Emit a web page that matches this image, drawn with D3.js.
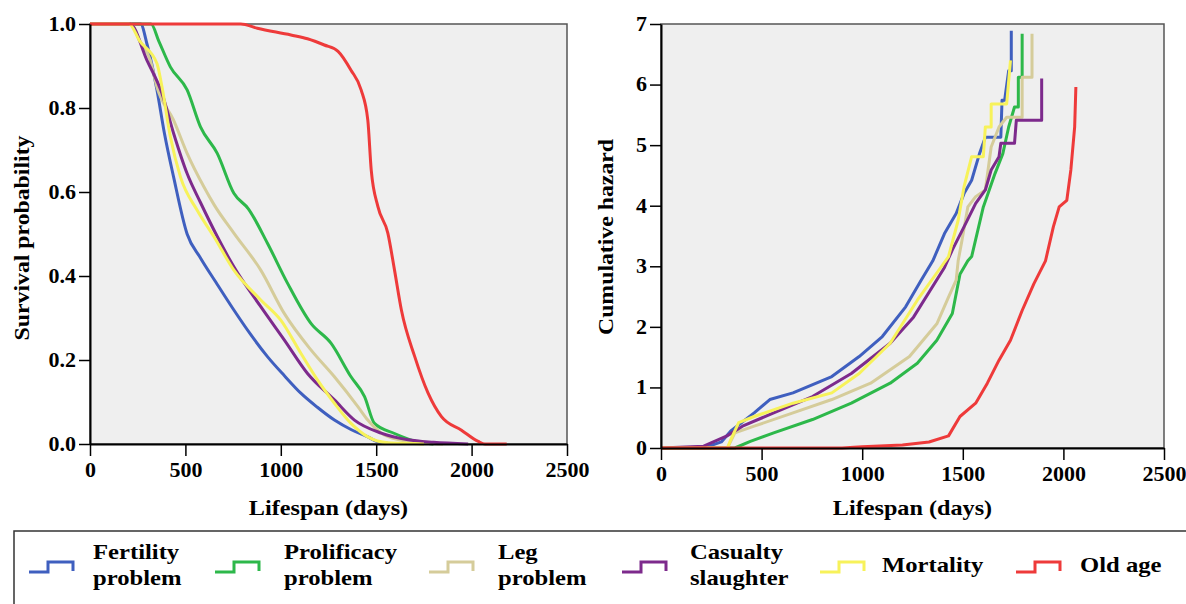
<!DOCTYPE html>
<html>
<head>
<meta charset="utf-8">
<script src="https://cdn.jsdelivr.net/npm/d3@7"></script>
<style>
  body { margin: 0; background: #fff; }
  text { font-family: "Liberation Serif", "Times New Roman", serif; font-weight: bold; fill: #000; }
</style>
</head>
<body>
<script>
// series names / colours
var seriesNames = [["Fertility", "problem"], ["Prolificacy", "problem"], ["Leg", "problem"],
    ["Casualty", "slaughter"], ["Mortality"], ["Old age"]];
var seriesColors = ["#3f5fbf", "#2db84a", "#d5cc9a", "#7d2a8c", "#f7f25a", "#ee3a3a"];

var xTicks = [0, 500, 1000, 1500, 2000, 2500];
var survTicks = [0, 0.2, 0.4, 0.6, 0.8, 1.0];
var hazTicks = [0, 1, 2, 3, 4, 5, 6, 7];

// survival probability [day, S]
var survFertility = [[0, 1], [265, 1], [300, 0.95], [351, 0.843], [390, 0.74], [438, 0.636], [509, 0.5],
    [579, 0.443], [660, 0.385], [754, 0.319], [840, 0.262], [930, 0.208], [1020, 0.162], [1105, 0.121],
    [1190, 0.088], [1281, 0.057], [1370, 0.034], [1456, 0.017], [1509, 0.005], [1560, 0.002]];
var survProlificacy = [[0, 1], [320, 1], [360, 0.96], [421, 0.898], [509, 0.843], [579, 0.755],
    [667, 0.692], [754, 0.597], [830, 0.56], [930, 0.478], [1035, 0.383], [1158, 0.287], [1263, 0.24],
    [1368, 0.16], [1439, 0.113], [1491, 0.049], [1596, 0.025], [1719, 0.005], [1800, 0]];
var survLeg = [[0, 1], [215, 1], [260, 0.96], [316, 0.914], [351, 0.85], [438, 0.771], [509, 0.692],
    [596, 0.613], [650, 0.57], [754, 0.502], [895, 0.414], [1018, 0.311], [1158, 0.224], [1281, 0.16],
    [1404, 0.089], [1456, 0.057], [1526, 0.026], [1620, 0.01], [1750, 0.003], [1850, 0]];
var survCasualty = [[0, 1], [210, 1], [298, 0.914], [377, 0.835], [438, 0.74], [509, 0.644], [579, 0.575],
    [667, 0.494], [754, 0.422], [895, 0.327], [1018, 0.248], [1140, 0.168], [1281, 0.105], [1386, 0.057],
    [1526, 0.026], [1667, 0.01], [1800, 0.004], [1982, 0]];
var survMortality = [[0, 1], [205, 1], [260, 0.96], [351, 0.906], [377, 0.851], [421, 0.732], [474, 0.636],
    [561, 0.557], [649, 0.494], [754, 0.414], [895, 0.343], [1000, 0.295], [1105, 0.216], [1193, 0.152],
    [1281, 0.097], [1368, 0.049], [1456, 0.017], [1561, 0.003], [1700, 0.001], [1750, 0]];
var survOldAge = [[0, 1], [790, 1], [877, 0.99], [1053, 0.974], [1140, 0.965], [1228, 0.95], [1300, 0.935],
    [1368, 0.89], [1421, 0.843], [1456, 0.771], [1474, 0.652], [1509, 0.565], [1561, 0.502], [1596, 0.414],
    [1632, 0.319], [1702, 0.208], [1772, 0.121], [1842, 0.065], [1947, 0.033], [2035, 0.006],
    [2070, 0], [2184, 0]];

// cumulative hazard [day, H]
var hazFertility = [[0, 0], [212, 0], [300, 0.1], [347, 0.28], [463, 0.58], [541, 0.8], [656, 0.91],
    [849, 1.18], [985, 1.51], [1100, 1.84], [1216, 2.33], [1293, 2.77], [1351, 3.09], [1409, 3.54],
    [1467, 3.87], [1506, 4.2], [1544, 4.42], [1583, 4.86], [1612, 5.13], [1689, 5.13], [1695, 5.74],
    [1708, 5.74], [1728, 6.23], [1741, 6.23], [1741, 6.89]];
var hazProlificacy = [[0, 0], [367, 0], [444, 0.11], [560, 0.25], [753, 0.47], [946, 0.74], [1139, 1.07],
    [1274, 1.4], [1371, 1.78], [1448, 2.22], [1486, 2.87], [1525, 3.09], [1544, 3.16], [1602, 3.98],
    [1660, 4.53], [1699, 4.86], [1728, 5.3], [1757, 5.63], [1776, 5.63], [1776, 6.12], [1795, 6.12],
    [1795, 6.84]];
var hazLeg = [[0, 0], [330, 0], [367, 0.25], [463, 0.36], [656, 0.58], [849, 0.8], [1042, 1.07],
    [1235, 1.51], [1371, 2.05], [1429, 2.49], [1467, 2.77], [1477, 3.09], [1496, 3.43], [1525, 3.98],
    [1564, 4.15], [1612, 4.26], [1641, 4.97], [1680, 5.3], [1718, 5.46], [1795, 5.46], [1795, 6.12],
    [1844, 6.12], [1844, 6.84]];
var hazCasualty = [[0, 0], [212, 0.03], [328, 0.2], [405, 0.36], [560, 0.58], [753, 0.85], [946, 1.23],
    [1139, 1.73], [1255, 2.16], [1409, 2.98], [1448, 3.27], [1506, 3.65], [1564, 4.04], [1612, 4.26],
    [1641, 4.59], [1680, 4.81], [1689, 5.03], [1757, 5.03], [1766, 5.41], [1892, 5.41], [1892, 6.1]];
var hazMortality = [[0, 0], [330, 0], [347, 0.14], [386, 0.42], [463, 0.52], [656, 0.74], [849, 0.91],
    [985, 1.23], [1139, 1.73], [1274, 2.44], [1390, 2.98], [1429, 3.16], [1477, 3.76], [1506, 4.31],
    [1544, 4.81], [1602, 4.81], [1612, 5.3], [1641, 5.3], [1641, 5.68], [1718, 5.68], [1737, 6.4]];
var hazOldAge = [[0, 0], [900, 0], [1000, 0.02], [1200, 0.05], [1332, 0.1], [1429, 0.2], [1486, 0.52],
    [1564, 0.74], [1622, 1.07], [1680, 1.45], [1737, 1.78], [1795, 2.27], [1853, 2.71], [1911, 3.09],
    [1950, 3.65], [1979, 3.98], [2017, 4.09], [2037, 4.59], [2056, 5.3], [2062, 5.96]];

var survSeries = [survFertility, survProlificacy, survLeg, survCasualty, survMortality, survOldAge];
var hazSeries = [hazFertility, hazProlificacy, hazLeg, hazCasualty, hazMortality, hazOldAge];

var svg = d3.select("body").append("svg")
    .attr("width", 1186)
    .attr("height", 604);

// the original lettering is a little wider than Times, stretch it horizontally
function stretch(sel, k) {
    sel.each(function () {
        var len = this.getComputedTextLength();
        d3.select(this).attr("textLength", len * k).attr("lengthAdjust", "spacingAndGlyphs");
    });
}

//---------one panel-----------------------//
function drawPanel(opt) {
    var x = d3.scaleLinear().domain([0, 2500]).range([opt.left, opt.right]);
    var y = d3.scaleLinear().domain(opt.yDomain).range([opt.bottom, opt.top]);
    var g = svg.append("g");

    // plot background + frame
    g.append("rect")
        .attr("x", opt.left).attr("y", opt.top)
        .attr("width", opt.right - opt.left).attr("height", opt.bottom - opt.top)
        .style("fill", "#efefef")
        .style("stroke", "#555")
        .style("stroke-width", 1.5);

    // curves
    var line = d3.line()
        .curve(opt.curve)
        .x(function (d) { return x(d[0]); })
        .y(function (d) { return y(d[1]); });
    opt.series.forEach(function (s, i) {
        g.append("path")
            .datum(s)
            .attr("d", line)
            .style("fill", "none")
            .style("stroke", seriesColors[i])
            .style("stroke-width", 3)
            .style("stroke-linejoin", "round");
    });

    // axes
    var xAxis = g.append("g")
        .attr("transform", "translate(0," + opt.bottom + ")")
        .call(d3.axisBottom(x).tickValues(xTicks).tickFormat(d3.format("d"))
            .tickSize(12).tickPadding(7).tickSizeOuter(0));
    var yAxis = g.append("g")
        .attr("transform", "translate(" + opt.left + ",0)")
        .call(d3.axisLeft(y).tickValues(opt.yTicks).tickFormat(opt.yFormat)
            .tickSize(11).tickPadding(3).tickSizeOuter(0));
    [xAxis, yAxis].forEach(function (a) {
        a.selectAll("path").style("stroke", "#000").style("stroke-width", 2);
        a.selectAll("line").style("stroke", "#000").style("stroke-width", 1.5);
        a.selectAll("text").style("font-size", "20px").style("fill", "#000")
            .style("font-family", "'Liberation Serif', serif").style("font-weight", "bold")
            .call(stretch, 1.1);
    });

    // axis titles
    g.append("text")
        .attr("x", (opt.left + opt.right) / 2)
        .attr("y", 515)
        .attr("text-anchor", "middle")
        .style("font-size", "22px")
        .text("Lifespan (days)")
        .call(stretch, 1.1);
    g.append("text")
        .attr("transform", "translate(" + opt.yTitleX + "," + opt.yTitleY + ") rotate(-90)")
        .attr("text-anchor", "middle")
        .style("font-size", "22px")
        .text(opt.yTitle)
        .call(stretch, 1.08);
}

drawPanel({
    left: 90, right: 567, top: 24, bottom: 444, curve: d3.curveMonotoneX,
    yDomain: [0, 1], yTicks: survTicks, yFormat: d3.format(".1f"),
    series: survSeries, yTitle: "Survival probability", yTitleX: 29, yTitleY: 238
});
drawPanel({
    left: 661, right: 1164, top: 24, bottom: 448, curve: d3.curveLinear,
    yDomain: [0, 7], yTicks: hazTicks, yFormat: d3.format("d"),
    series: hazSeries, yTitle: "Cumulative hazard", yTitleX: 613, yTitleY: 237
});

//---------legend-----------------------//
svg.append("rect")
    .attr("x", 14).attr("y", 531)
    .attr("width", 1190).attr("height", 100)
    .style("fill", "none")
    .style("stroke", "#333")
    .style("stroke-width", 1.5);

var legIconX = [29, 215, 429, 622, 820, 1016];
var legTextX = [93, 284, 498, 690, 882, 1080];
var legend = svg.append("g");
seriesNames.forEach(function (name, i) {
    var x0 = legIconX[i];
    legend.append("path")
        .attr("d", "M" + x0 + ",572 H" + (x0 + 19) + " V562 H" + (x0 + 44) + " V571")
        .style("fill", "none")
        .style("stroke", seriesColors[i])
        .style("stroke-width", 3);
    var t = legend.append("text")
        .attr("x", legTextX[i])
        .style("font-size", "22px");
    if (name.length === 2) {
        t.append("tspan").attr("x", legTextX[i]).attr("y", 559).text(name[0]);
        t.append("tspan").attr("x", legTextX[i]).attr("y", 585).text(name[1]);
        stretch(t.selectAll("tspan"), 1.12);
    } else {
        t.attr("y", 572).text(name[0]);
        stretch(t, 1.12);
    }
});
</script>
</body>
</html>
